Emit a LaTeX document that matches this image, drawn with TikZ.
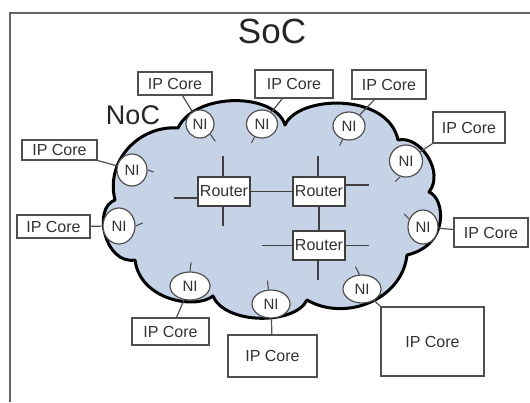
\documentclass[tikz,border=0pt]{standalone}
\usepackage{fontspec}
\setmainfont{Liberation Sans}
\usetikzlibrary{shapes.geometric}
\definecolor{cloudfill}{RGB}{198,211,231}
\definecolor{edgegray}{RGB}{80,80,80}
\definecolor{txtgray}{RGB}{50,50,50}
\tikzset{
  ipcore/.style={draw=edgegray, line width=1.4pt, fill=white, inner sep=0pt,
    text=txtgray, font=\fontsize{16}{18}\selectfont},
  routerbox/.style={draw=edgegray!80!black, line width=1.5pt, fill=white, inner sep=0pt,
    minimum width=52pt, minimum height=29pt, text=txtgray, font=\fontsize{16}{18}\selectfont},
  niell/.style={ellipse, draw=edgegray, line width=1.2pt, fill=white, inner sep=0pt,
    text=txtgray, font=\fontsize{15}{17}\selectfont},
  link/.style={draw=edgegray, line width=1.2pt},
  rlink/.style={draw=black!75, line width=1.7pt},
  nistub/.style={draw=edgegray, line width=1.1pt},
  frameline/.style={draw=black!60, line width=2pt}
}
\begin{document}
\begin{tikzpicture}[x=1pt,y=-1pt]
\useasboundingbox (0,0) rectangle (530,402);
\fill[white] (0,0) rectangle (530,402);
% frame
\draw[frameline] (10,402) -- (10,13) -- (530,13);
% titles
\node[font=\fontsize{35}{40}\selectfont, text=black!85] (soc) at (272,31) {SoC};
\node[font=\fontsize{27}{30}\selectfont, text=black!85] (noc) at (133,115) {NoC};
% cloud
\draw[fill=cloudfill, line width=3pt, line join=round]
  (178,128) .. controls (195,92) and (275,92) .. (285,125)
  .. controls (298,95) and (388,92) .. (398,140)
  .. controls (420,135) and (445,172) .. (429,192)
  .. controls (445,198) and (450,245) .. (407,255)
  .. controls (402,300) and (345,322) .. (307,300)
  .. controls (295,325) and (225,325) .. (213,296)
  .. controls (195,310) and (140,300) .. (135,260)
  .. controls (105,265) and (92,208) .. (115,200)
  .. controls (105,160) and (140,125) .. cycle;
% routers
\node[routerbox] (r1) at (224,191.5) {Router};
\node[routerbox] (r2) at (319,191.5) {Router};
\node[routerbox] (r3) at (319,245.5) {Router};
\draw[rlink] (r1.east) -- (r2.west);
\draw[rlink] (r2.south) -- (r3.north);
\draw[rlink] ([xshift=-1pt]r1.north) -- ++(0,-20);
\draw[rlink] ([xshift=-1pt]r1.south) -- ++(0,19);
\draw[rlink] ([yshift=-6.5pt]r1.west) -- ++(-23,0);
\draw[rlink] ([xshift=-1pt]r2.north) -- ++(0,-20);
\draw[rlink] ([yshift=6.5pt]r2.east) -- ++(23,0);
\draw[rlink] (r3.west) -- ++(-30,0);
\draw[rlink] (r3.east) -- ++(23,0);
\draw[rlink] ([xshift=-1pt]r3.south) -- ++(0,19);
% network interfaces
\node[niell, minimum width=30pt, minimum height=32pt] (ni1) at (132,170) {NI};
\node[niell, minimum width=28pt, minimum height=28pt] (ni2) at (200,124) {NI};
\node[niell, minimum width=31pt, minimum height=28pt] (ni3) at (262,124) {NI};
\node[niell, minimum width=32pt, minimum height=28pt] (ni4) at (349,126) {NI};
\node[niell, minimum width=33pt, minimum height=32pt] (ni5) at (406,161) {NI};
\node[niell, minimum width=32pt, minimum height=36pt] (ni6) at (119,226) {NI};
\node[niell, minimum width=30pt, minimum height=34pt] (ni7) at (423,227) {NI};
\node[niell, minimum width=40pt, minimum height=28pt] (ni8) at (190,286) {NI};
\node[niell, minimum width=38pt, minimum height=28pt] (ni9) at (271,304) {NI};
\node[niell, minimum width=38pt, minimum height=28pt] (ni10) at (362,289) {NI};
% NI stubs toward the inside
\draw[nistub] (ni1.east) -- ++(6,2);
\draw[nistub] (ni2.-45) -- ++(5,7);
\draw[nistub] (ni3.-120) -- ++(-3,6);
\draw[nistub] (ni4.-115) -- ++(-3,6);
\draw[nistub] (ni5.-110) -- ++(-5,5);
\draw[nistub] (ni6.east) -- ++(7,-3);
\draw[nistub] (ni7.150) -- ++(-5,-5);
\draw[nistub] (ni8.north) -- ++(1,-9);
\draw[nistub] (ni9.100) -- ++(-1,-9);
\draw[nistub] (ni10.100) -- ++(-4,-8);
% IP cores
\node[ipcore, minimum width=74pt, minimum height=23pt] (ip1) at (175,83.5) {IP Core};
\node[ipcore, minimum width=78pt, minimum height=28pt] (ip2) at (294,84) {IP Core};
\node[ipcore, minimum width=74pt, minimum height=29pt] (ip3) at (389,84.5) {IP Core};
\node[ipcore, minimum width=72pt, minimum height=31pt] (ip4) at (469,127.5) {IP Core};
\node[ipcore, minimum width=75pt, minimum height=20pt] (ip5) at (59.5,150) {IP Core};
\node[ipcore, minimum width=73pt, minimum height=23pt] (ip6) at (53.5,226.5) {IP Core};
\node[ipcore, minimum width=74pt, minimum height=29pt] (ip7) at (491,232.5) {IP Core};
\node[ipcore, minimum width=77pt, minimum height=27pt] (ip8) at (170.5,331.5) {IP Core};
\node[ipcore, minimum width=89pt, minimum height=42pt] (ip9) at (272.5,356) {IP Core};
\node[ipcore, minimum width=103pt, minimum height=69pt] (ip10) at (432.5,341.5) {IP Core};
% IP core to NI links
\draw[link] (ip1) -- (ni2);
\draw[link] (ip2) -- (ni3);
\draw[link] (ip3) -- (ni4);
\draw[link] (ip4.south west) -- (ni5);
\draw[link] (ip5) -- (ni1);
\draw[link] (ip6) -- (ni6);
\draw[link] (ip7) -- (ni7);
\draw[link] (ip8) -- (ni8);
\draw[link] (ip9) -- (ni9);
\draw[link] (ip10.north west) -- (ni10);
\end{tikzpicture}
\end{document}
